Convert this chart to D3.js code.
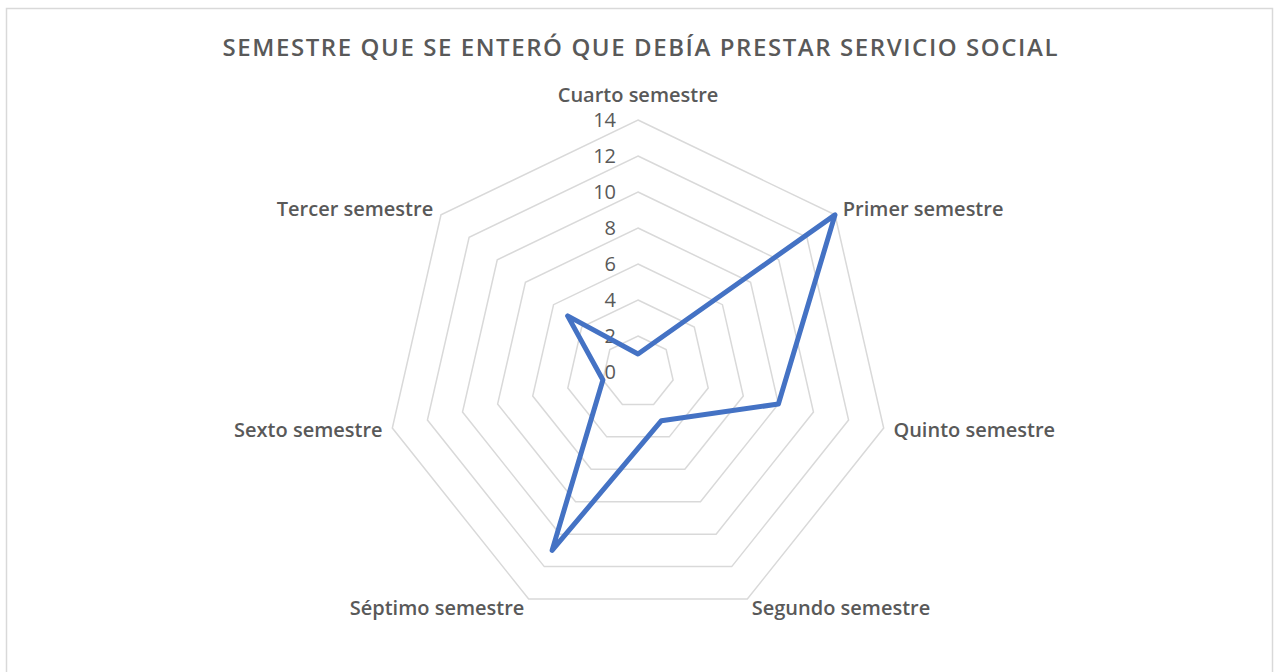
<!DOCTYPE html>
<html>
<head>
<meta charset="utf-8">
<script src="https://d3js.org/d3.v7.min.js"></script>
<style>
  body { margin: 0; background: #fff; }
</style>
</head>
<body>
<div id="my_dataviz"></div>
<script>

// data
var categories = ["Cuarto semestre", "Primer semestre", "Quinto semestre", "Segundo semestre",
                  "Séptimo semestre", "Sexto semestre", "Tercer semestre"];
var values = [1, 14, 8, 3, 11, 2, 5];
var tickValues = [0, 2, 4, 6, 8, 10, 12, 14];
var title = "SEMESTRE QUE SE ENTERÓ QUE DEBÍA PRESTAR SERVICIO SOCIAL";

var width = 1279, height = 672;
var cx = 638, cy = 372;

var svg = d3.select("#my_dataviz")
  .append("svg")
    .attr("width", width)
    .attr("height", height);

// chart frame
svg.append("rect")
  .attr("x", 6.5)
  .attr("y", 8.5)
  .attr("width", 1266)
  .attr("height", 700)
  .attr("fill", "#fff")
  .attr("stroke", "#d9d9d9")
  .attr("stroke-width", 1.5);

// title
svg.append("text")
  .attr("x", 640)
  .attr("y", 56)
  .attr("text-anchor", "middle")
  .attr("font-family", "Open Sans")
  .attr("font-weight", 600)
  .attr("font-size", 24)
  .attr("fill", "#595959")
  .attr("textLength", 835)
  .attr("lengthAdjust", "spacing")
  .text(title);

var g = svg.append("g")
  .attr("transform", "translate(" + cx + "," + cy + ")");

// radius and angle scales
var r = d3.scaleLinear()
  .domain([0, 14])
  .range([0, 252]);

var angle = d3.scaleLinear()
  .domain([0, categories.length])
  .range([0, 2 * Math.PI]);

function px(i, v) { return r(v) * Math.sin(angle(i)); }
function py(i, v) { return -r(v) * Math.cos(angle(i)); }

// heptagon grid rings
tickValues.filter(function(t) { return t > 0; }).forEach(function(t) {
  g.append("path")
    .attr("fill", "none")
    .attr("stroke", "#d9d9d9")
    .attr("stroke-width", 1.5)
    .attr("d", d3.line()
      .x(function(d, i) { return px(i, t); })
      .y(function(d, i) { return py(i, t); })
      .curve(d3.curveLinearClosed)(categories));
});

// value labels on the top axis
g.selectAll(".tick")
  .data(tickValues)
  .enter()
  .append("text")
    .attr("x", -22)
    .attr("y", function(d) { return -r(d); })
    .attr("dy", "0.35em")
    .attr("text-anchor", "end")
    .attr("font-family", "Open Sans")
    .attr("font-size", 20)
    .attr("fill", "#595959")
    .text(function(d) { return d; });

// category labels
g.selectAll(".cat")
  .data(categories)
  .enter()
  .append("text")
    .attr("x", function(d, i) { return px(i, 14) + 10 * Math.sin(angle(i)); })
    .attr("y", function(d, i) {
      var y = py(i, 14) - 10 * Math.cos(angle(i));
      return i == 0 ? y - 15 : y;
    })
    .attr("dy", "0.35em")
    .attr("text-anchor", function(d, i) {
      var s = Math.sin(angle(i));
      return s > 0.1 ? "start" : (s < -0.1 ? "end" : "middle");
    })
    .attr("font-family", "Open Sans")
    .attr("font-weight", 600)
    .attr("font-size", 20)
    .attr("fill", "#595959")
    .text(function(d) { return d; });

// the series line
g.append("path")
  .datum(values)
  .attr("fill", "none")
  .attr("stroke", "#4472c4")
  .attr("stroke-width", 5)
  .attr("stroke-linejoin", "round")
  .attr("d", d3.line()
    .x(function(d, i) { return px(i, d); })
    .y(function(d, i) { return py(i, d); })
    .curve(d3.curveLinearClosed));

</script>
</body>
</html>
